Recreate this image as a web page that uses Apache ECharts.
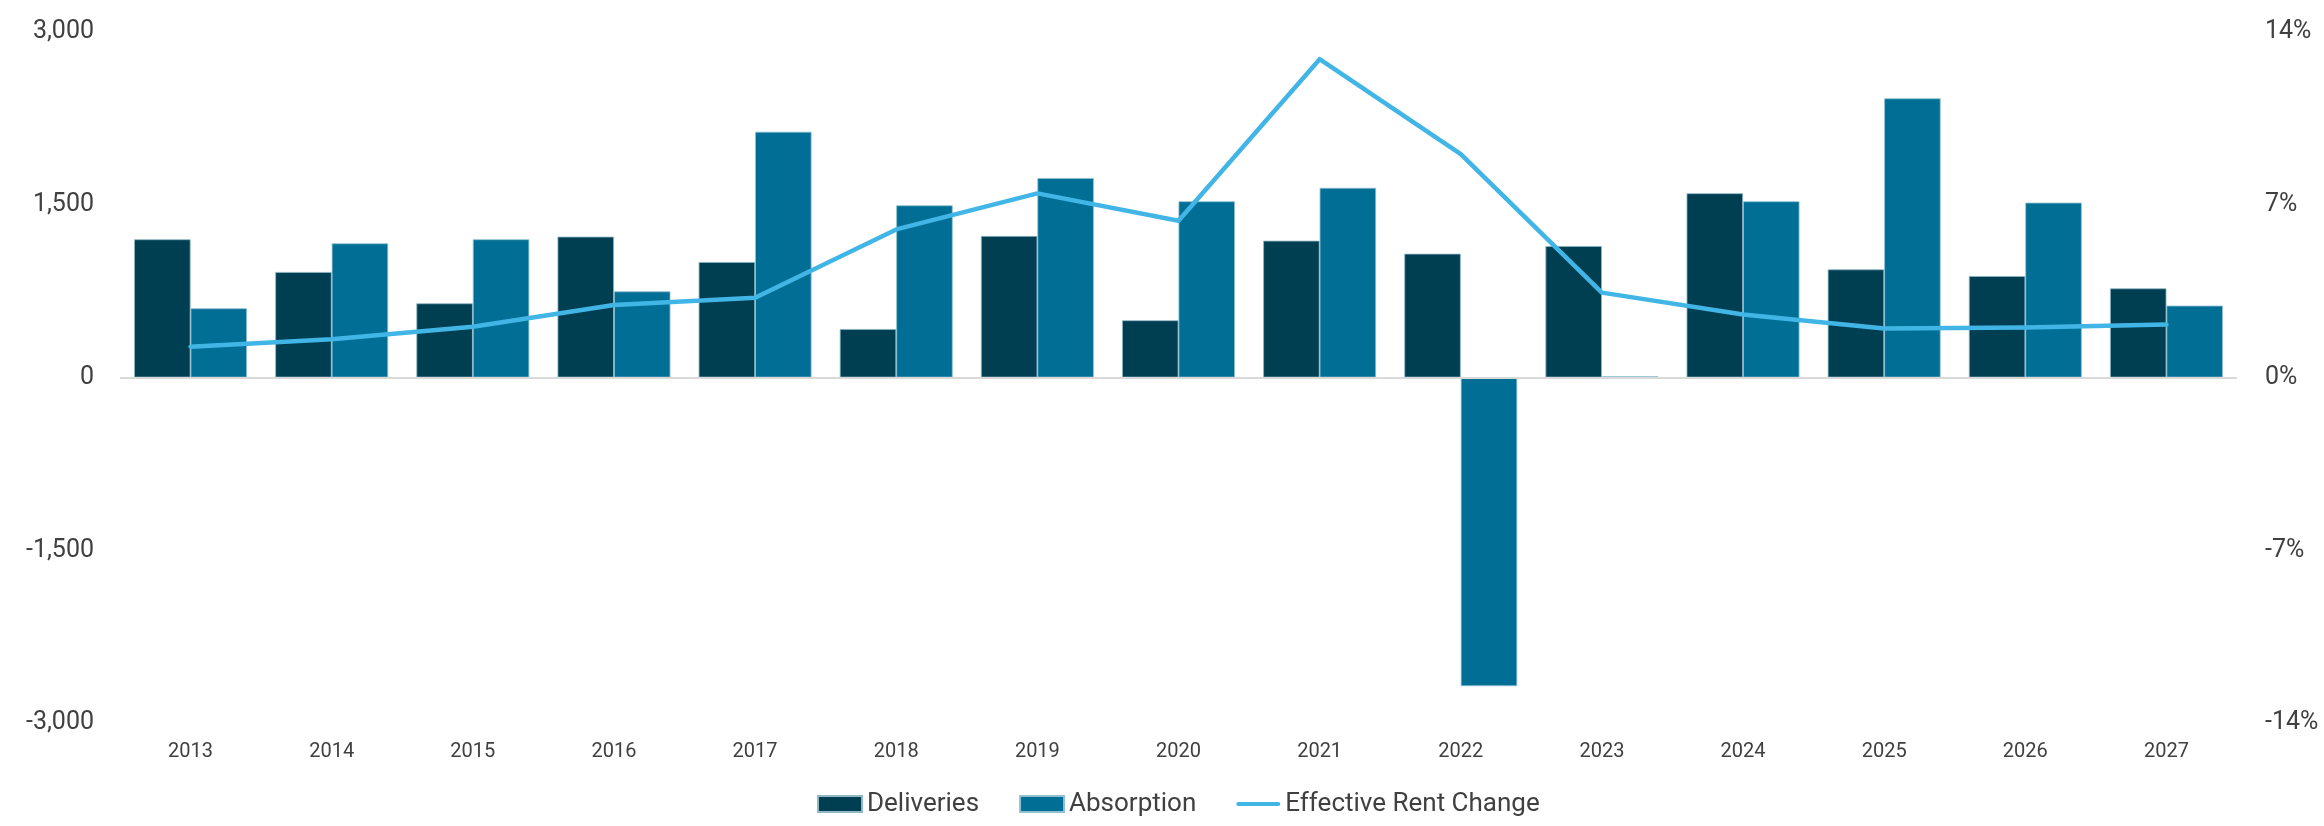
<!DOCTYPE html>
<html>
<head>
<meta charset="utf-8">
<script src="https://cdn.jsdelivr.net/npm/echarts@6/dist/echarts.min.js"></script>
<style>
html,body{margin:0;padding:0;background:#fff;}
#chart{width:2324px;height:826px;}
</style>
</head>
<body>
<div id="chart"></div>
<script>
const categories = ['2013','2014','2015','2016','2017','2018','2019','2020','2021','2022','2023','2024','2025','2026','2027'];
const deliveries = [1200, 916, 644, 1223, 1003, 421, 1229, 497, 1188, 1075, 1142, 1600, 939, 881, 774];
const absorption = [601, 1165, 1200, 748, 2134, 1495, 1732, 1530, 1647, -2680, 10, 1530, 2424, 1518, 624];
const rentChange = [1.25, 1.55, 2.06, 2.94, 3.23, 6.0, 7.46, 6.35, 12.9, 9.05, 3.44, 2.55, 1.99, 2.03, 2.15];

const FONT = 'Roboto';
const TXT = '#404040';

const chart = echarts.init(document.getElementById('chart'), null, {renderer: 'canvas'});
chart.setOption({
  animation: false,
  backgroundColor: '#ffffff',
  textStyle: {fontFamily: FONT},
  grid: {left: 120, right: 87, top: 32, bottom: 103, containLabel: false},
  legend: {
    left: 812, top: 786,
    itemWidth: 44, itemHeight: 16, itemGap: 40,
    textStyle: {fontFamily: FONT, fontSize: 26, color: TXT},
    data: [
      {name: 'Deliveries', icon: 'rect'},
      {name: 'Absorption', icon: 'rect'},
      {name: 'Effective Rent Change', icon: 'path://M2,0 L46,0 A2.25,2.25 0 0 1 46,4.5 L2,4.5 A2.25,2.25 0 0 1 2,0 Z',
       itemStyle: {color: '#41b6e6', borderWidth: 0}}
    ]
  },
  xAxis: {
    type: 'category',
    data: categories,
    position: 'bottom',
    axisLine: {show: false, onZero: false},
    axisTick: {show: false},
    axisLabel: {fontFamily: FONT, fontSize: 20, color: TXT, margin: 19}
  },
  yAxis: [
    {
      type: 'value', min: -3000, max: 3000, interval: 1500,
      axisLine: {show: false}, axisTick: {show: false},
      splitLine: {show: false},
      axisLabel: {fontFamily: FONT, fontSize: 25, color: TXT, margin: 26}
    },
    {
      type: 'value', min: -14, max: 14, interval: 7,
      axisLine: {show: false}, axisTick: {show: false},
      splitLine: {show: false},
      axisLabel: {fontFamily: FONT, fontSize: 25, color: TXT, margin: 28, formatter: '{value}%'}
    }
  ],
  series: [
    {
      name: 'Deliveries', type: 'bar', data: deliveries,
      barGap: '0%', barCategoryGap: '20%',
      itemStyle: {color: '#003f52', borderColor: '#8fb8c6', borderWidth: 0.8},
      markLine: {
        silent: true, symbol: ['none','none'], label: {show: false},
        lineStyle: {color: '#d9d9d9', width: 2, type: 'solid'},
        data: [{yAxis: 0}]
      },
      z: 2
    },
    {
      name: 'Absorption', type: 'bar', data: absorption,
      barGap: '0%', barCategoryGap: '20%',
      itemStyle: {color: '#016f95', borderColor: '#8fc0d2', borderWidth: 0.8},
      z: 2
    },
    {
      name: 'Effective Rent Change', type: 'line', yAxisIndex: 1, data: rentChange,
      symbol: 'none', showSymbol: false,
      lineStyle: {color: '#41b6e6', width: 4.5, cap: 'round', join: 'round'},
      itemStyle: {color: '#41b6e6'},
      z: 5
    }
  ]
});
</script>
</body>
</html>
